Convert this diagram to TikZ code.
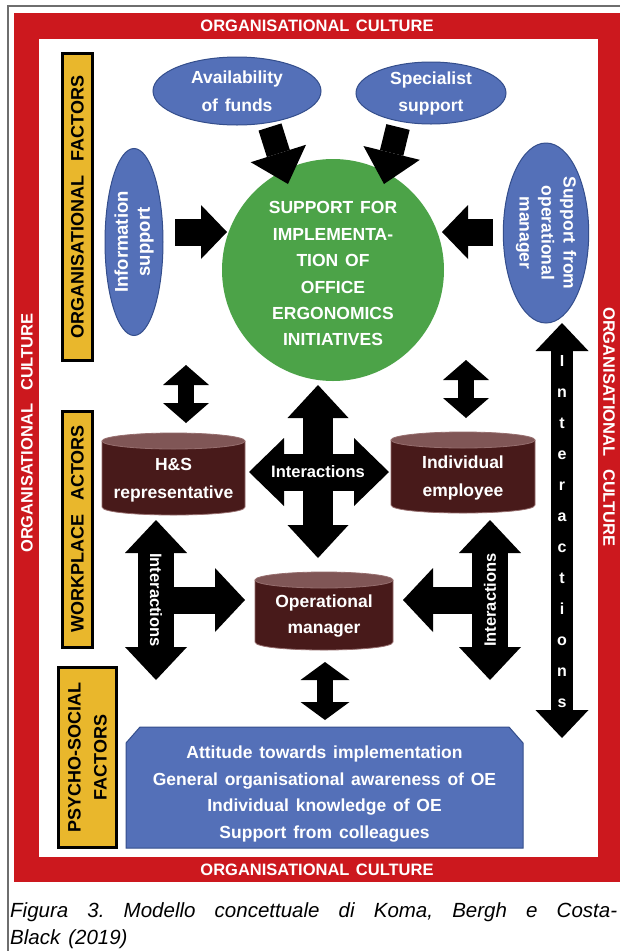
\documentclass[tikz,border=0pt]{standalone}
\usepackage{fontspec}
\setmainfont{Liberation Sans}[WordSpace=1.4]
\usetikzlibrary{arrows.meta,shapes.geometric}
\definecolor{cred}{RGB}{204,24,30}
\definecolor{cblue}{RGB}{84,112,184}
\definecolor{cbluedk}{RGB}{52,78,140}
\definecolor{cgreen}{RGB}{76,163,72}
\definecolor{cyel}{RGB}{233,183,44}
\definecolor{cbody}{RGB}{72,26,26}
\definecolor{ctop}{RGB}{128,86,86}
\definecolor{cedge}{RGB}{150,110,110}
\definecolor{cframe}{RGB}{110,110,110}
\tikzset{
 cult/.style={text=white, font=\bfseries\fontsize{16.5}{18}\selectfont, inner sep=0pt},
 ybox/.style={draw=black, line width=3pt, fill=cyel, inner sep=0pt, align=center, font=\bfseries\fontsize{18}{26}\selectfont},
 ell/.style={ellipse, draw=cbluedk, line width=1pt, fill=cblue, text=white, align=center, inner sep=0pt},
 wtxt/.style={text=white, align=center, inner sep=0pt, font=\bfseries\fontsize{17.5}{28}\selectfont},
 itxt/.style={text=white, inner sep=0pt, font=\bfseries\fontsize{16.5}{18}\selectfont},
 barrow/.style n args={3}{draw=black, line width=#1, -{Triangle[width=#2, length=#3, line width=0pt]}},
 dbarrow/.style n args={3}{draw=black, line width=#1, {Triangle[width=#2, length=#3, line width=0pt]}-{Triangle[width=#2, length=#3, line width=0pt]}},
}
\newcommand\drawcyl[4]{%
 \fill[cbody] (#1,#3+8) -- (#1,#4-8) .. controls (#1,#4+2.67) and (#2,#4+2.67) .. (#2,#4-8) -- (#2,#3+8) -- cycle;
 \draw[cedge, line width=0.8pt] (#1,#3+8) -- (#1,#4-8) .. controls (#1,#4+2.67) and (#2,#4+2.67) .. (#2,#4-8) -- (#2,#3+8);
 \filldraw[fill=ctop, draw=cedge, line width=0.8pt] ({(#1+#2)/2},#3+8) ellipse[x radius={(#2-#1)/2}, y radius=8];
}
\begin{document}
\begin{tikzpicture}[x=1pt,y=-1pt]
\useasboundingbox (0,0) rectangle (619,951);
\fill[white] (0,0) rectangle (619,951);
% frames
\draw[cframe, line width=1.3pt] (8,960) -- (8,6) -- (630,6);
\fill[cred] (14,13) rectangle (630,882);
\fill[white] (39,39) rectangle (598,857);
\node[cult] (ocT) at (317,26) {ORGANISATIONAL CULTURE};
\node[cult] (ocB) at (317,870) {ORGANISATIONAL CULTURE};
\node[cult, rotate=90] (ocL) at (27,433) {ORGANISATIONAL\ \ CULTURE};
\node[cult, rotate=-90] (ocR) at (609,427) {ORGANISATIONAL\ \ CULTURE};
% yellow side labels
\node[ybox, rotate=90, minimum width=307pt, minimum height=30pt] (of) at (77.5,207) {ORGANISATIONAL\ \ FACTORS};
\node[ybox, rotate=90, minimum width=236pt, minimum height=30pt] (wa) at (77.5,529) {WORKPLACE\ \ ACTORS};
\node[ybox, rotate=90, minimum width=180pt, minimum height=58pt] (psf) at (87.5,757.5) {PSYCHO-SOCIAL\\FACTORS};
% ellipses
\node[ell, minimum width=168pt, minimum height=68pt, font=\bfseries\fontsize{17.5}{28}\selectfont] (funds) at (237,91) {Availability\\of funds};
\node[ell, minimum width=150pt, minimum height=62pt, font=\bfseries\fontsize{17.5}{27}\selectfont] (spec) at (431,93) {Specialist\\support};
\node[ell, rotate=90, minimum width=187pt, minimum height=58pt, font=\bfseries\fontsize{18.5}{22}\selectfont] (info) at (134,242) {Information\\support};
\node[ell, rotate=-90, minimum width=180pt, minimum height=83pt, font=\bfseries\fontsize{17.5}{22}\selectfont] (som) at (546,233) {Support from\\operational\\manager};
% central circle
\node[circle, fill=cgreen, minimum size=222pt, inner sep=0pt, text=white, align=center, font=\bfseries\fontsize{17.5}{26.4}\selectfont] (sup) at (333,270) {\rule{0pt}{20pt}SUPPORT FOR\\IMPLEMENTA-\\TION OF\\OFFICE\\ERGONOMICS\\INITIATIVES};
% arrows into circle
\coordinate (a1s) at (270,127); \coordinate (a1e) at (288,184);
\coordinate (a2s) at (398,127); \coordinate (a2e) at (384,184);
\coordinate (a3s) at (175,232); \coordinate (a3e) at (227,232);
\coordinate (a4s) at (493,232); \coordinate (a4e) at (442,232);
\draw[barrow={24pt}{58pt}{32pt}] (a1s) -- (a1e);
\draw[barrow={24pt}{58pt}{32pt}] (a2s) -- (a2e);
\draw[barrow={27pt}{54pt}{26pt}] (a3s) -- (a3e);
\draw[barrow={27pt}{54pt}{26pt}] (a4s) -- (a4e);
% cylinders
\drawcyl{102}{245}{433}{515}
\node[wtxt] (hs) at (173.5,480) {H\&S\\representative};
\drawcyl{391}{535}{432}{513}
\node[wtxt] (ie) at (463,478) {Individual\\employee};
\drawcyl{255}{393}{572}{650}
\node[wtxt, font=\bfseries\fontsize{17.5}{26}\selectfont] (om) at (324,616) {Operational\\manager};
% small double arrows
\coordinate (b1s) at (186,365); \coordinate (b1e) at (186,423);
\coordinate (b2s) at (466,360); \coordinate (b2e) at (466,418);
\coordinate (b3s) at (325,662); \coordinate (b3e) at (325,720);
\draw[dbarrow={16pt}{46pt}{20pt}] (b1s) -- (b1e);
\draw[dbarrow={16pt}{46pt}{20pt}] (b2s) -- (b2e);
\draw[dbarrow={16pt}{49pt}{18pt}] (b3s) -- (b3e);
% four-way arrow
\coordinate (v1) at (318,385); \coordinate (v2) at (318,558);
\coordinate (h1) at (249,472); \coordinate (h2) at (389,472);
\draw[dbarrow={30pt}{61pt}{33pt}] (v1) -- (v2);
\draw[dbarrow={37pt}{68pt}{35pt}] (h1) -- (h2);
\node[itxt] (int0) at (318,472) {Interactions};
% left T arrow
\coordinate (l1) at (156,520); \coordinate (l2) at (156,680);
\coordinate (lm) at (156,600); \coordinate (le) at (245,600);
\draw[dbarrow={36pt}{62pt}{33pt}] (l1) -- (l2);
\draw[barrow={27pt}{64pt}{30pt}] (lm) -- (le);
\node[itxt, rotate=-90] (intL) at (lm) {Interactions};
% right T arrow
\coordinate (r1) at (490,520); \coordinate (r2) at (490,680);
\coordinate (rm) at (490,600); \coordinate (re) at (403,600);
\draw[dbarrow={36pt}{62pt}{33pt}] (r1) -- (r2);
\draw[barrow={27pt}{64pt}{30pt}] (rm) -- (re);
\node[itxt, rotate=90] (intR) at (rm) {Interactions};
% long right arrow
\coordinate (g1) at (562,323); \coordinate (g2) at (562,738);
\draw[dbarrow={22pt}{53pt}{28pt}] (g1) -- (g2);
\node[text=white, align=center, inner sep=0pt, font=\bfseries\fontsize{16}{31}\selectfont] (intV) at (562,532) {I\\n\\t\\e\\r\\a\\c\\t\\i\\o\\n\\s};
% psycho-social box
\filldraw[fill=cblue, draw=cbluedk, line width=1pt] (126,743) -- (140,727) -- (509,727) -- (523,743) -- (523,848) -- (126,848) -- cycle;
\node[text=white, align=center, inner sep=0pt, font=\bfseries\fontsize{17.5}{26.7}\selectfont] (pf) at (324.5,794) {Attitude towards implementation\\General organisational awareness of OE\\Individual knowledge of OE\\Support from colleagues};
% caption
\node[anchor=base west, inner sep=0pt, font=\itshape\fontsize{20.5}{29}\selectfont] (cap1) at (10,917) {\frenchspacing\makebox[607pt][s]{Figura 3. Modello concettuale di Koma, Bergh e Costa-}};
\node[anchor=base west, inner sep=0pt, font=\itshape\fontsize{20.5}{29}\selectfont] (cap2) at (10,944) {Black (2019)};
\end{tikzpicture}
\end{document}
